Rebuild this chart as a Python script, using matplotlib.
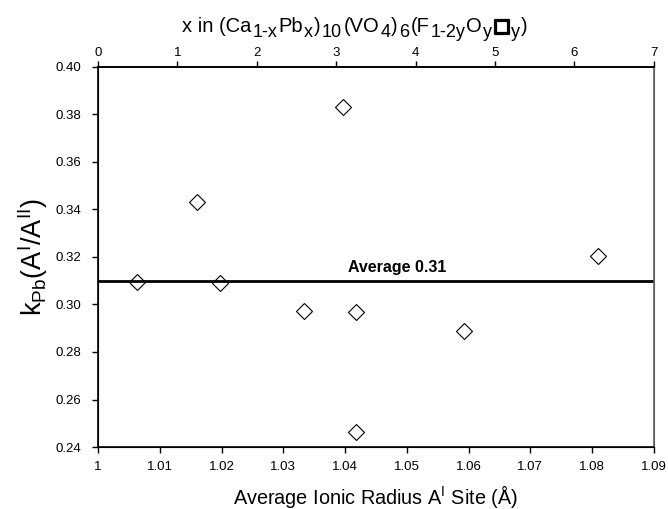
import matplotlib
matplotlib.use('Agg')
import matplotlib.pyplot as plt
import matplotlib.patheffects as pe

# raio iônico médio do sítio A(I) e coeficiente de partição do Pb
raio = [1.0063, 1.0160, 1.0197, 1.0333, 1.0397, 1.0417, 1.0417, 1.0593, 1.0809]
kpb = [0.3095, 0.3430, 0.3090, 0.2973, 0.3830, 0.2968, 0.2464, 0.2887, 0.3203]
media = 0.31

ticksRaio = [1, 1.01, 1.02, 1.03, 1.04, 1.05, 1.06, 1.07, 1.08, 1.09]
labelsRaio = ['1', '1.01', '1.02', '1.03', '1.04', '1.05', '1.06', '1.07', '1.08', '1.09']
ticksK = [0.24, 0.26, 0.28, 0.30, 0.32, 0.34, 0.36, 0.38, 0.40]
ticksX = [0, 1, 2, 3, 4, 5, 6, 7]

# pedaços do título de cima: (texto, é subscrito?)
formula = [('x in (Ca', False), ('1-x', True), ('Pb', False), ('x', True),
           (')', False), ('10', True), ('(VO', False), ('4', True),
           (')', False), ('6', True), ('(F', False), ('1-2y', True),
           ('O', False), ('y', True), ('□', False), ('y', True), (')', False)]

plt.rcParams['font.family'] = ['Liberation Sans', 'DejaVu Sans']
plt.rcParams['mathtext.fontset'] = 'custom'
plt.rcParams['mathtext.rm'] = 'Liberation Sans'
plt.rcParams['mathtext.it'] = 'Liberation Sans'
plt.rcParams['mathtext.default'] = 'regular'

fig = plt.figure(figsize=(6.68, 5.09), dpi=100)
ax = fig.add_axes([0.1467, 0.1218, 0.832, 0.7466])

ax.plot(raio, kpb, linestyle='none', marker='D', markersize=8,
        markerfacecolor='white', markeredgecolor='black', markeredgewidth=0.8)
ax.axhline(media, color='black', linewidth=2)
ax.text(1.0485, media + 0.0025, 'Average 0.31', ha='center', va='bottom',
        fontsize=11.5, fontweight='bold')

ax.set_xlim(1, 1.09)
ax.set_ylim(0.24, 0.40)
ax.set_xticks(ticksRaio)
ax.set_xticklabels(labelsRaio, fontsize=9.5)
ax.set_yticks(ticksK)
ax.set_yticklabels(['%.2f' % v for v in ticksK], fontsize=9.5)
ax.tick_params(axis='x', direction='out', length=4, width=1, pad=6)
ax.tick_params(axis='y', direction='out', length=4, width=1, pad=8)
for lado in ['left', 'bottom', 'top']:
    ax.spines[lado].set_linewidth(1.2)
ax.spines['right'].set_color('#606060')
ax.spines['right'].set_linewidth(1.2)

ax.set_xlabel(r'Average Ionic Radius A$^{I}$ Site ($\AA$)', fontsize=14.3)
ax.xaxis.set_label_coords(0.5, -0.095)
ax.set_ylabel(r'k$_{Pb}$(A$^{I}$/A$^{II}$)', fontsize=19.5)
ax.yaxis.set_label_coords(-0.086, 0.50)

# eixo superior com a composição x
ax2 = ax.twiny()
ax2.set_xlim(0, 7)
ax2.set_xticks(ticksX)
ax2.set_xticklabels([str(v) for v in ticksX], fontsize=9.5)
ax2.tick_params(axis='x', direction='out', length=4, width=1, pad=2)
ax2.spines['top'].set_linewidth(1.2)
ax2.spines['right'].set_color('#606060')

# título de cima montado pedaço por pedaço, com subscritos quase do tamanho normal
base = 0.937
anterior = fig.text(0.2725, base, formula[0][0], fontsize=14.5, va='baseline', ha='left')
for txt, sub in formula[1:]:
    kw = {}
    if txt == '□':
        kw = dict(family='DejaVu Sans', fontweight='bold', fontsize=13,
                  path_effects=[pe.withStroke(linewidth=1.6, foreground='black')])
    else:
        kw = dict(fontsize=13 if sub else 14.5)
    anterior = ax.annotate(
        txt, xy=(1, base), xycoords=(anterior, 'figure fraction'),
        xytext=(0.8, -3.8 if sub else 0), textcoords='offset points',
        va='baseline', ha='left', annotation_clip=False, **kw)

fig.savefig('out.png', dpi=100)
